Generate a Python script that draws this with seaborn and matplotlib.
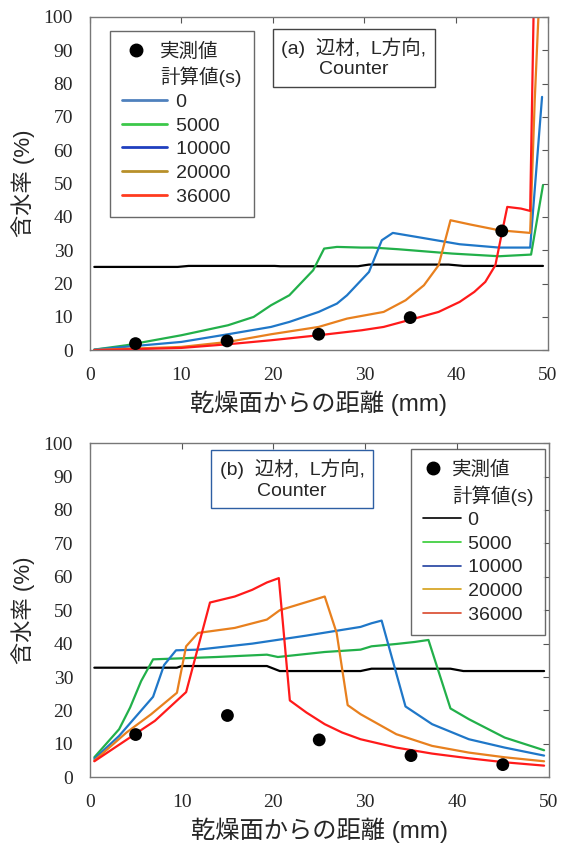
import matplotlib
matplotlib.use("Agg")
import matplotlib.pyplot as plt
from matplotlib.lines import Line2D
from matplotlib.legend_handler import HandlerLine2D
import seaborn as sns

# ---- panel (a) data ----
a_meas_x = [5, 15, 25, 35, 45]
a_meas_y = [2.0, 2.8, 4.8, 9.8, 35.8]

a0_x = [0.5, 9.6, 10.8, 20.2, 20.8, 29.3, 30.5, 39.2, 40.8, 49.5]
a0_y = [25.0, 25.0, 25.3, 25.3, 25.2, 25.2, 25.7, 25.7, 25.3, 25.3]
a5k_x = [0.5, 4, 10, 15.1, 17.9, 19.8, 21.8, 24.4, 25.6, 27, 29.7, 30.9, 33.7, 39.6, 44.7, 48.2, 49.5]
a5k_y = [0.2, 1.5, 4.5, 7.5, 10, 13.5, 16.5, 24, 30.5, 31, 30.8, 30.8, 30.3, 29, 28.2, 28.7, 49.5]
a10k_x = [0.5, 10, 15.1, 19.8, 21.8, 25, 27, 28.1, 30.5, 31.9, 33.1, 35.7, 40.4, 44.7, 48.1, 49.4]
a10k_y = [0.2, 2.5, 4.8, 7, 8.5, 11.5, 14, 16.5, 23.5, 33, 35.2, 34, 31.8, 30.8, 30.8, 76]
a20k_x = [0.5, 10, 15.1, 19.8, 25, 28.1, 32.1, 34.5, 36.5, 38.1, 39.4, 41.6, 44.7, 48.1, 48.6, 49.0]
a20k_y = [0.1, 1, 2.5, 4.8, 7, 9.5, 11.5, 15, 19.5, 25.5, 39, 37.7, 36, 35.2, 75, 100]
a36k_x = [0.5, 10, 15.1, 19.8, 25, 29.7, 32.1, 35.2, 38.1, 40.4, 42, 43.2, 44.3, 45, 45.6, 47.1, 48.1, 48.5]
a36k_y = [0.0, 0.7, 1.8, 3, 4.5, 6, 7, 9.3, 11.5, 14.5, 17.5, 20.5, 25.5, 35, 43, 42.5, 41.8, 105]

# ---- panel (b) data ----
b_meas_x = [5, 15, 25, 35, 45]
b_meas_y = [12.8, 18.5, 11.2, 6.5, 3.8]

b0_x = [0.5, 9.5, 10.0, 19.3, 20.7, 29.5, 30.7, 39.3, 40.7, 49.5]
b0_y = [32.8, 32.8, 33.3, 33.3, 31.8, 31.8, 32.5, 32.5, 31.8, 31.8]
b5k_x = [0.5, 3.2, 4.4, 5.6, 6.9, 9.9, 13.8, 19.3, 20.5, 25.6, 29.5, 30.7, 33.4, 35.4, 36.9, 39.3, 41.3, 45.2, 49.5]
b5k_y = [6, 14.4, 20.9, 28.8, 35.3, 35.6, 36, 36.7, 36, 37.5, 38.2, 39.2, 39.9, 40.5, 41.1, 20.6, 17.4, 11.9, 8.1]
b10k_x = [0.5, 3.2, 6.9, 8.1, 9.4, 11.8, 17.7, 23.6, 29.5, 30.7, 31.8, 34.4, 37.3, 41.3, 45.2, 49.5]
b10k_y = [5.5, 12.4, 24.1, 33.6, 38, 38.2, 40, 42.4, 45, 46.1, 46.9, 21.2, 15.9, 11.4, 8.9, 6.5]
b20k_x = [0.5, 4, 6.7, 9.5, 10.5, 11.8, 15.8, 19.3, 20.7, 25.6, 26.9, 28.1, 29.5, 33.4, 37.3, 41.3, 45.2, 49.5]
b20k_y = [5, 13.4, 18.9, 25.3, 39.2, 43.2, 44.7, 47.2, 50, 54.1, 43.2, 21.6, 18.9, 12.9, 9.4, 7.4, 6, 4.8]
b36k_x = [0.5, 7.1, 10.5, 13.1, 15.8, 17.7, 19.3, 20.6, 21.8, 23.6, 25.6, 27.5, 29.5, 33.4, 37.3, 41.3, 45.2, 49.5]
b36k_y = [4.8, 16.9, 25.5, 52.3, 54.1, 56.1, 58.3, 59.6, 23, 19.4, 15.9, 13.4, 11.4, 8.9, 7.1, 5.7, 4.5, 3.5]

times = ["0", "5000", "10000", "20000", "36000"]
line_colors = ["black", "#22b04a", "#1f77c8", "#e8801e", "#ff1a1a"]
a_legend_colors = ["#4f81bd", "#3cc84a", "#1f3fbf", "#b8902a", "#ff3b1f"]
b_legend_colors = ["black", "#33cc33", "#2040a0", "#d4a017", "#d9482b"]


# legend line that reaches past its handle box (the number labels sit further right)
class LongLine(HandlerLine2D):
    def __init__(self, extra, **kw):
        super().__init__(**kw)
        self.extra = extra

    def create_artists(self, legend, orig_handle, xdescent, ydescent, width, height, fontsize, trans):
        return super().create_artists(legend, orig_handle, xdescent, ydescent,
                                      width + self.extra, height, fontsize, trans)


sns.set_style("white")
plt.rcParams["font.family"] = ["Liberation Sans", "Noto Sans CJK JP"]

fig = plt.figure(figsize=(5.68, 8.44), dpi=100)
ax_a = fig.add_axes([0.158, 0.585, 0.806, 0.395])
ax_b = fig.add_axes([0.158, 0.079, 0.808, 0.396])

panels = [
    (ax_a, [(a0_x, a0_y), (a5k_x, a5k_y), (a10k_x, a10k_y), (a20k_x, a20k_y), (a36k_x, a36k_y)],
     a_meas_x, a_meas_y),
    (ax_b, [(b0_x, b0_y), (b5k_x, b5k_y), (b10k_x, b10k_y), (b20k_x, b20k_y), (b36k_x, b36k_y)],
     b_meas_x, b_meas_y),
]

for ax, series, mx, my in panels:
    for (x, y), c in zip(series, line_colors):
        sns.lineplot(x=x, y=y, ax=ax, color=c, sort=False, estimator=None,
                     linewidth=1.6, legend=False)
    sns.scatterplot(x=mx, y=my, ax=ax, color="black", s=85, edgecolor="none",
                    zorder=5, legend=False)
    ax.set_xlim(0, 50)
    ax.set_ylim(0, 100)
    ax.set_xticks(range(0, 51, 10))
    ax.set_yticks(range(0, 101, 10))
    ax.tick_params(direction="in", top=True, right=True, length=4, width=0.8,
                   color="#555555", labelsize=14, pad=12)
    for lab in ax.get_xticklabels() + ax.get_yticklabels():
        lab.set_fontfamily("Liberation Serif")
    for sp in ax.spines.values():
        sp.set_color("#777777")
        sp.set_linewidth(1.0)
    ax.set_xlabel("乾燥面からの距離 (mm)", fontsize=17.5, labelpad=5)
    ax.set_ylabel("含水率 (%)", fontsize=16, labelpad=6)


def make_legend(ax, colors, lw, anchor, loc, hlen, extra):
    mk = Line2D([], [], marker="o", color="black", linestyle="none", markersize=9)
    blank = Line2D([], [], linestyle="none")
    lines = [Line2D([], [], color=c, linewidth=lw) for c in colors]
    labels = ["実測値", "計算値(s)"] + ["   " + t for t in times]
    hmap = {ln: LongLine(extra) for ln in lines}
    leg = ax.legend([mk, blank] + lines, labels, loc=loc, bbox_to_anchor=anchor,
                    borderaxespad=0, fontsize=14, frameon=True, fancybox=False,
                    edgecolor="#444444", handlelength=hlen, labelspacing=0.31,
                    borderpad=0.6, handletextpad=0.5, handler_map=hmap)
    leg.get_frame().set_linewidth(1.0)
    return leg


make_legend(ax_a, a_legend_colors, 2.0, (0.044, 0.958), "upper left", 1.5, 12)
make_legend(ax_b, b_legend_colors, 1.2, (0.993, 0.982), "upper right", 1.0, 13)

ax_a.text(0.577, 0.877, "(a)  辺材,  L方向,\nCounter", transform=ax_a.transAxes,
          ha="center", va="center", fontsize=14, linespacing=1.25,
          bbox=dict(boxstyle="square,pad=0.45", facecolor="white", edgecolor="#444444", linewidth=1.0))
ax_b.text(0.441, 0.892, "(b)  辺材,  L方向,\nCounter", transform=ax_b.transAxes,
          ha="center", va="center", fontsize=14, linespacing=1.25,
          bbox=dict(boxstyle="square,pad=0.45", facecolor="white", edgecolor="#2e5fa3", linewidth=1.0))

fig.savefig("out.png", dpi=100)
